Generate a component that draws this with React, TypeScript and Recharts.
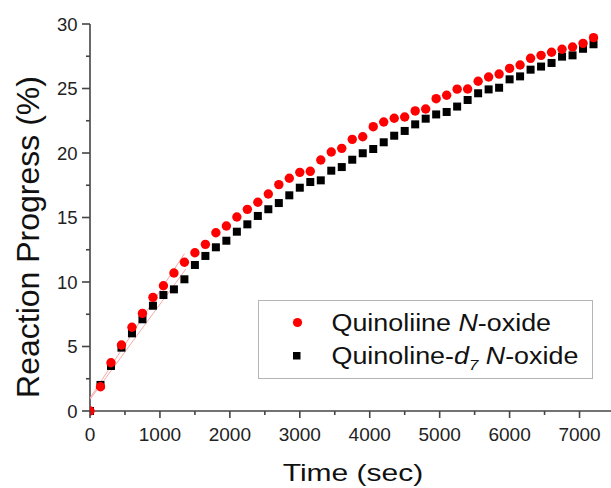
import { Legend, Scatter, ScatterChart, XAxis, YAxis } from 'recharts'

// sample times (sec)
const TIME = [
  0, 150, 300, 450, 600, 750, 900, 1050, 1200, 1350, 1500, 1650, 1800, 1950, 2100, 2250, 2400,
  2550, 2700, 2850, 3000, 3150, 3300, 3450, 3600, 3750, 3900, 4050, 4200, 4350, 4500, 4650, 4800,
  4950, 5100, 5250, 5400, 5550, 5700, 5850, 6000, 6150, 6300, 6450, 6600, 6750, 6900, 7050, 7200,
]

// Quinoliine N-oxide, reaction progress (%)
const PROTIO = [
  0, 1.88, 3.74, 5.12, 6.49, 7.57, 8.81, 9.71, 10.7, 11.53, 12.27, 12.92, 13.82, 14.34, 15.04,
  15.63, 16.18, 16.82, 17.55, 18.04, 18.5, 18.58, 19.46, 20.08, 20.36, 21.06, 21.26, 22.04, 22.4,
  22.69, 22.79, 23.26, 23.41, 24.21, 24.48, 24.95, 24.96, 25.56, 25.89, 26.12, 26.56, 26.82, 27.34,
  27.57, 27.81, 28.04, 28.22, 28.5, 28.94,
]

// Quinoline-d7 N-oxide, reaction progress (%)
const DEUTERO = [
  0, 2.02, 3.49, 4.91, 6.02, 7.11, 8.16, 8.99, 9.43, 10.21, 11.32, 12.02, 12.69, 13.2, 13.9, 14.47,
  15.12, 15.64, 16.12, 16.72, 17.31, 17.75, 17.88, 18.63, 18.91, 19.48, 19.98, 20.31, 20.83, 21.34,
  21.71, 22.22, 22.66, 22.99, 23.18, 23.6, 24.11, 24.63, 24.93, 25.06, 25.71, 25.94, 26.46, 26.7,
  26.98, 27.47, 27.57, 28.08, 28.43,
]

// initial-rate fit lines (start / end)
const FIT_A_T = [0, 1350]
const FIT_A_V = [1.0, 12.2]
const FIT_B_T = [0, 1370]
const FIT_B_V = [0.9, 11.0]

const X_TICKS = [0, 500, 1000, 1500, 2000, 2500, 3000, 3500, 4000, 4500, 5000, 5500, 6000, 6500, 7000]
const Y_TICKS = [0, 2.5, 5, 7.5, 10, 12.5, 15, 17.5, 20, 22.5, 25, 27.5, 30]

const AXIS = '#444'
const FONT = '"Liberation Sans", Arial, sans-serif'

const protioData = TIME.map((t, i) => ({ t, v: PROTIO[i] }))
const deuteroData = TIME.map((t, i) => ({ t, v: DEUTERO[i] }))
const fitA = FIT_A_T.map((t, i) => ({ t, v: FIT_A_V[i] }))
const fitB = FIT_B_T.map((t, i) => ({ t, v: FIT_B_V[i] }))

function XTick({ x, y, payload }: any) {
  const major = payload.value % 1000 === 0
  return (
    <g>
      <line x1={x} x2={x} y1={y} y2={y + (major ? 7 : 4)} stroke={AXIS} strokeWidth={1.6} />
      {major && (
        <text x={x} y={y + 29.5} textAnchor="middle" fontSize={19} fill="#222" fontFamily={FONT}>
          {payload.value}
        </text>
      )}
    </g>
  )
}

function YTick({ x, y, payload }: any) {
  const major = payload.value % 5 === 0
  return (
    <g>
      <line x1={x - (major ? 8 : 4)} x2={x} y1={y} y2={y} stroke={AXIS} strokeWidth={1.6} />
      {major && (
        <text x={x - 12.5} y={y + 6.6} textAnchor="end" fontSize={18.5} fill="#222" fontFamily={FONT}>
          {payload.value}
        </text>
      )}
    </g>
  )
}

function renderLegend() {
  return (
    <svg width={336} height={80} style={{ display: 'block', fontFamily: FONT }}>
      <rect x={0.5} y={0.5} width={334} height={78} fill="#fff" stroke="#b5b5b5" strokeWidth={1} />
      <circle cx={39.5} cy={22.5} r={4.6} fill="#ff0000" />
      <rect x={35} y={52} width={7.5} height={7.5} fill="#000" />
      <g transform="translate(73.5,30.5) scale(1.12,1)">
        <text x={0} y={0} fontSize={24} fill="#111">
          Quinoliine <tspan fontStyle="italic">N</tspan>-oxide
        </text>
      </g>
      <g transform="translate(73.5,63.5) scale(1.12,1)">
        <text x={0} y={0} fontSize={24} fill="#111">
          Quinoline-<tspan fontStyle="italic">d</tspan>
          <tspan fontStyle="italic" fontSize={15} dy={6}>7</tspan>
          <tspan dy={-6}> </tspan>
          <tspan fontStyle="italic">N</tspan>-oxide
        </text>
      </g>
    </svg>
  )
}

function Circle({ cx, cy }: any) {
  return <circle cx={cx} cy={cy} r={4.7} fill="#ff0000" />
}

function Square({ cx, cy }: any) {
  return <rect x={cx - 4} y={cy - 4} width={8} height={8} fill="#000" />
}

export default function App() {
  return (
    <div style={{ position: 'absolute', left: 0, top: 0, width: 611, height: 488, background: '#fff' }}>
      <ScatterChart width={611} height={488} margin={{ top: 24, right: 0, bottom: 0, left: 0 }}>
        <XAxis
          type="number"
          dataKey="t"
          domain={[0, 7450]}
          ticks={X_TICKS}
          interval={0}
          tickSize={0}
          tickMargin={0}
          tick={<XTick />}
          height={77}
          allowDataOverflow
          axisLine={{ stroke: AXIS, strokeWidth: 1.6 }}
          label={() => (
            <g transform="translate(353,481) scale(1.25,1)">
              <text x={0} y={0} textAnchor="middle" fontSize={24} fill="#111" fontFamily={FONT}>
                Time (sec)
              </text>
            </g>
          )}
        />
        <YAxis
          type="number"
          dataKey="v"
          domain={[0, 30]}
          ticks={Y_TICKS}
          interval={0}
          tickSize={0}
          tickMargin={0}
          tick={<YTick />}
          width={90}
          axisLine={{ stroke: AXIS, strokeWidth: 1.6 }}
          label={() => (
            <text
              x={39}
              y={237}
              transform="rotate(-90 39 237)"
              textAnchor="middle"
              fontSize={32}
              fill="#111"
              fontFamily={FONT}
            >
              Reaction Progress (%)
            </text>
          )}
        />
        <Legend
          layout="horizontal"
          verticalAlign="middle"
          align="center"
          content={renderLegend}
          wrapperStyle={{ left: 258, top: 300, width: 336, height: 80 }}
        />
        <Scatter data={fitA} line={{ stroke: '#f6a8a8', strokeWidth: 1 }} shape={() => <g />} isAnimationActive={false} />
        <Scatter data={fitB} line={{ stroke: '#f6a8a8', strokeWidth: 1 }} shape={() => <g />} isAnimationActive={false} />
        <Scatter data={deuteroData} shape={<Square />} isAnimationActive={false} />
        <Scatter data={protioData} shape={<Circle />} isAnimationActive={false} />
      </ScatterChart>
    </div>
  )
}
